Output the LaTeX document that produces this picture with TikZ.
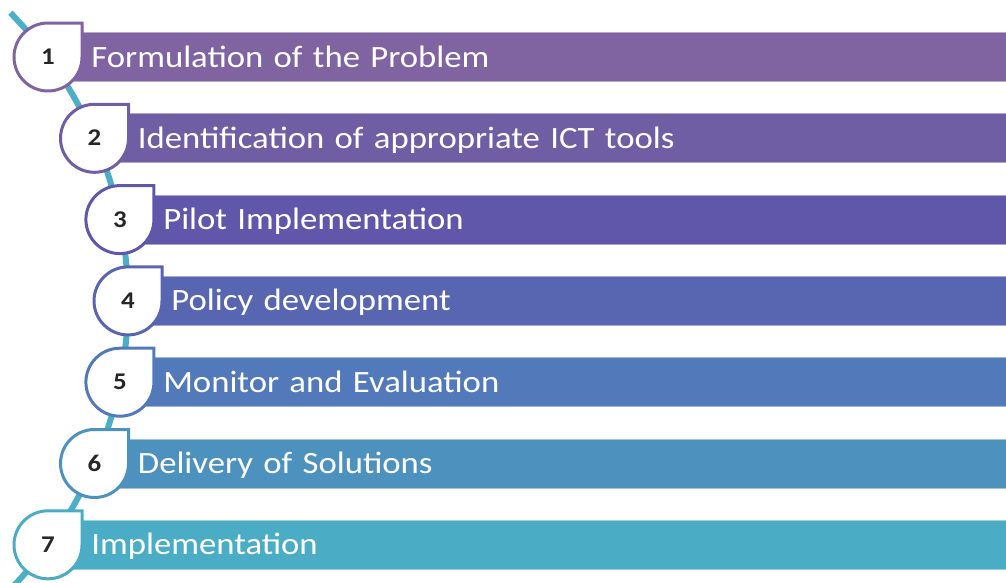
\documentclass[tikz,border=0pt]{standalone}
\usepackage{fontspec}
\usetikzlibrary{calc}
\setmainfont{Carlito}
\newfontfamily\stagefamily[FakeStretch=1.12]{Carlito}
\definecolor{stageOne}{RGB}{128,99,161}
\definecolor{stageTwo}{RGB}{112,94,165}
\definecolor{stageThree}{RGB}{97,87,170}
\definecolor{stageFour}{RGB}{88,101,176}
\definecolor{stageFive}{RGB}{82,122,186}
\definecolor{stageSix}{RGB}{77,145,191}
\definecolor{stageSeven}{RGB}{75,172,198}
\definecolor{trackColor}{RGB}{75,175,200}
\definecolor{numColor}{RGB}{38,38,38}
\newcommand{\stagefont}{\stagefamily\fontsize{31}{35}\selectfont}
\newcommand{\numfont}{\stagefamily\bfseries\fontsize{24}{26}\selectfont}

\begin{document}
\begin{tikzpicture}[x=1pt, y=-1pt,
    stage/.style={anchor=west, fill=#1, draw=#1!55!white, line width=0.8pt, minimum height=49pt, inner ysep=0pt, inner xsep=43pt, text width=900pt, align=left, text=white, font=\stagefont, text height=20pt, text depth=0pt},
    drop/.style={draw=#1, fill=white, line width=3pt},
    num/.style={inner sep=0pt, font=\numfont, text=numColor, text height=15pt, text depth=0pt},
    track/.style={draw=trackColor, line width=6pt}
  ]
  \useasboundingbox (0,0) rectangle (1006,582);

  % tab centres sit on one arc round (arcc)
  \coordinate (arcc) at (-284,301);
  \coordinate (c1) at (48,57);
  \coordinate (c2) at (94.5,138.3);
  \coordinate (c3) at (119.9,219.6);
  \coordinate (c4) at (128,300.9);
  \coordinate (c5) at (119.9,382.2);
  \coordinate (c6) at (94.5,463.5);
  \coordinate (c7) at (48,544.8);
  \coordinate (trackTop) at ($(arcc)+(-44.4:412)$);

  \draw[track] (trackTop) arc[start angle=-44.4, end angle=50, radius=412];

  \node[stage=stageOne] (s1) at (c1) {Formulation of the Problem};
  \node[stage=stageTwo] (s2) at (c2) {Identification of appropriate ICT tools};
  \node[stage=stageThree] (s3) at (c3) {Pilot Implementation};
  \node[stage=stageFour] (s4) at (c4) {Policy development};
  \node[stage=stageFive] (s5) at (c5) {Monitor and Evaluation};
  \node[stage=stageSix] (s6) at (c6) {Delivery of Solutions};
  \node[stage=stageSeven] (s7) at (c7) {Implementation};

  \draw[drop=stageOne] (c1) ++(34,0) -- ++(0,-34) -- ++(-34,0) arc[start angle=270, end angle=0, radius=34] -- cycle;
  \draw[drop=stageTwo] (c2) ++(34,0) -- ++(0,-34) -- ++(-34,0) arc[start angle=270, end angle=0, radius=34] -- cycle;
  \draw[drop=stageThree] (c3) ++(34,0) -- ++(0,-34) -- ++(-34,0) arc[start angle=270, end angle=0, radius=34] -- cycle;
  \draw[drop=stageFour] (c4) ++(34,0) -- ++(0,-34) -- ++(-34,0) arc[start angle=270, end angle=0, radius=34] -- cycle;
  \draw[drop=stageFive] (c5) ++(34,0) -- ++(0,-34) -- ++(-34,0) arc[start angle=270, end angle=0, radius=34] -- cycle;
  \draw[drop=stageSix] (c6) ++(34,0) -- ++(0,-34) -- ++(-34,0) arc[start angle=270, end angle=0, radius=34] -- cycle;
  \draw[drop=stageSeven] (c7) ++(34,0) -- ++(0,-34) -- ++(-34,0) arc[start angle=270, end angle=0, radius=34] -- cycle;

  \node[num] (n1) at (c1) {1};
  \node[num] (n2) at (c2) {2};
  \node[num] (n3) at (c3) {3};
  \node[num] (n4) at (c4) {4};
  \node[num] (n5) at (c5) {5};
  \node[num] (n6) at (c6) {6};
  \node[num] (n7) at (c7) {7};
\end{tikzpicture}
\end{document}
